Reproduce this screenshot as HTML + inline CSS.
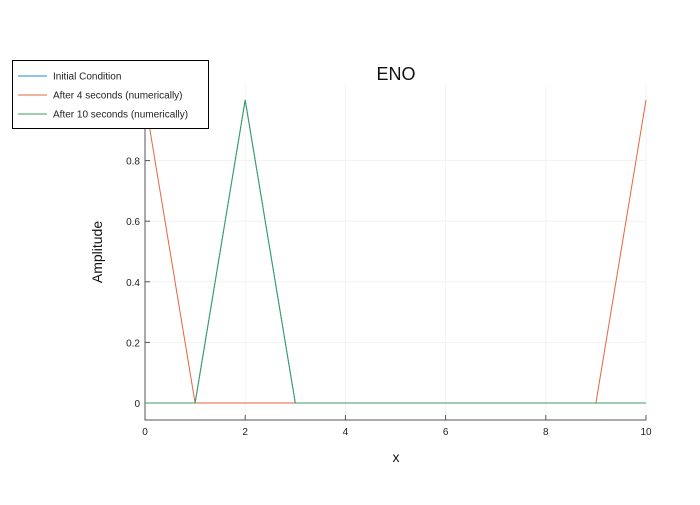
<!DOCTYPE html>
<html><head><meta charset="utf-8"><style>
body{margin:0;background:#fff;font-family:"Liberation Sans",sans-serif}
</style></head><body>
<svg id="c" width="700" height="500" xmlns="http://www.w3.org/2000/svg"></svg>
<script>
const xs=[0,1,2,3,4,5,6,7,8,9,10];
const initial=[0,0,1,0,0,0,0,0,0,0,0];
const after4=[1,0,0,0,0,0,0,0,0,0,1];
const after10=[0,0,1,0,0,0,0,0,0,0,0];
const xticks=[0,2,4,6,8,10];
const yticks=[0,0.2,0.4,0.6,0.8];
const names=["Initial Condition","After 4 seconds (numerically)","After 10 seconds (numerically)"];
const colors=["#1f8fd6","#e8653d","#3a9e5f"];
const L=145,R=646,y0px=403,y1px=100;
const sx=v=>L+(v-0)/(10-0)*(R-L);
const sy=v=>y0px+(v-0)*(y1px-y0px);
const svg=document.getElementById('c');
const NS="http://www.w3.org/2000/svg";
function mk(t,a,p){const e=document.createElementNS(NS,t);for(const k in a)e.setAttribute(k,a[k]);(p||svg).appendChild(e);return e;}
xticks.forEach(v=>{const g=mk('line',{x1:sx(v),x2:sx(v),y1:85,y2:420,stroke:'#f3f3f3','stroke-width':1});

});
yticks.forEach(v=>{const g=mk('line',{x1:L,x2:R,y1:sy(v),y2:sy(v),stroke:'#f3f3f3','stroke-width':1});

});
const ax=mk('path',{d:`M${L},85 L${L},420 L${R},420`,fill:'none',stroke:'#555','stroke-width':1});


xticks.forEach(v=>{mk('line',{x1:sx(v),x2:sx(v),y1:420,y2:415,stroke:'#555'});
const t=mk('text',{x:sx(v),y:435,'text-anchor':'middle','font-size':10,fill:'#222'});t.textContent=v;

});
yticks.forEach(v=>{mk('line',{x1:L,x2:L+5,y1:sy(v),y2:sy(v),stroke:'#555'});
const t=mk('text',{x:L-5,y:sy(v)+4,'text-anchor':'end','font-size':10,fill:'#222'});t.textContent=v===0?'0':v.toFixed(1);

});
[initial,after4,after10].forEach((s,i)=>{
const p=mk('polyline',{points:s.map((v,j)=>sx(xs[j])+','+sy(v)).join(' '),fill:'none',stroke:colors[i],'stroke-width':1});

});
let t=mk('text',{x:396,y:80,'text-anchor':'middle','font-size':18,fill:'#111'});t.textContent='ENO';


t=mk('text',{x:396,y:462,'text-anchor':'middle','font-size':14,fill:'#111'});t.textContent='x';


t=mk('text',{x:102,y:252,'text-anchor':'middle','font-size':14,fill:'#111',transform:'rotate(-90 102 252)'});t.textContent='Amplitude';


const lg=mk('rect',{x:12.5,y:60.5,width:196,height:68,fill:'#fff',stroke:'#000','stroke-width':1});


names.forEach((n,i)=>{const y=76+i*19;
mk('line',{x1:18,x2:47,y1:y,y2:y,stroke:colors[i]});
const tt=mk('text',{x:53,y:y+3.5,'font-size':10,fill:'#222'});tt.textContent=n;

});
</script>
</body></html>
